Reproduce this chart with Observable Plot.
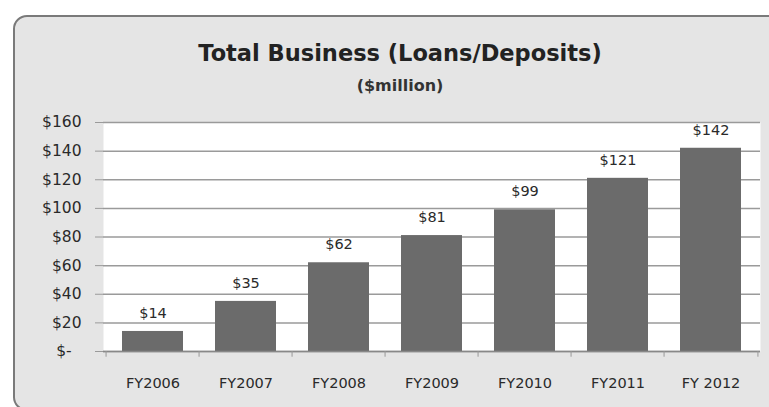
<!DOCTYPE html>
<html><head><meta charset="utf-8">
<script src="https://cdn.jsdelivr.net/npm/d3@7"></script>
<script src="https://cdn.jsdelivr.net/npm/@observablehq/plot@0.6"></script>
<style>
html,body{margin:0;padding:0;background:#fff;width:769px;height:407px;overflow:hidden;font-family:"DejaVu Sans",sans-serif;}
#box{position:absolute;left:13px;top:15px;width:800px;height:396px;background:#e5e5e5;border:2px solid #7a7a7a;border-radius:14px;box-sizing:border-box;}
#title{position:absolute;left:0;top:40px;width:800px;text-align:center;font-weight:bold;font-size:22.5px;line-height:26px;color:#222;}
#sub{position:absolute;left:0;top:76px;width:800px;text-align:center;font-weight:bold;font-size:16px;line-height:20px;color:#333;}
#chart{position:absolute;left:0;top:105px;}
</style></head>
<body>
<div id="box"></div>
<div id="title">Total Business (Loans/Deposits)</div>
<div id="sub">($million)</div>
<div id="chart"></div>
<script>
const categories = ["FY2006","FY2007","FY2008","FY2009","FY2010","FY2011","FY 2012"];
const values = [14, 35, 62, 81, 99, 121, 142];
const yTicks = [0,20,40,60,80,100,120,140,160];
const data = categories.map((c,i)=>({cat:c, v:values[i]}));
const step = (769-103-9)/categories.length;
const chart = Plot.plot({
  width: 769, height: 302,
  marginLeft: 103, marginRight: 9, marginTop: 17, marginBottom: 56,
  style: {background: "transparent", fontFamily: "'DejaVu Sans', sans-serif", color: "#2a2a2a"},
  x: {domain: categories, paddingInner: 0.34, paddingOuter: 0.17, label: null},
  y: {domain: [0,160], ticks: yTicks, label: null},
  marks: [
    Plot.frame({fill: "white", stroke: null}),
    Plot.gridY(yTicks, {stroke: "#9a9a9a", strokeOpacity: 1, strokeWidth: 1.5}),
    Plot.barY(data, {x: "cat", y: "v", fill: "#6b6b6b"}),
    Plot.text(data, {x: "cat", y: "v", text: d => "$" + d.v, dy: -18, fontSize: 14.5, fill: "#2a2a2a"}),
    Plot.ruleY([0], {stroke: "#888", strokeWidth: 1.5}),
    Plot.ruleX(categories, {x: d => d, dx: -step/2, y1: 0, y2: -4, stroke: "#999"}),
    Plot.ruleX(categories.slice(-1), {x: d => d, dx: step/2, y1: 0, y2: -4, stroke: "#999"}),
    Plot.axisY(yTicks, {tickSize: 8, tickPadding: 14, fontSize: 15.5, fill: "#2a2a2a", stroke: "#9a9a9a", tickFormat: d => d === 0 ? "$-\u00a0\u00a0" : "$" + d}),
    Plot.ruleX([0], {frameAnchor: "left", stroke: "#888", strokeWidth: 2}),
    Plot.axisX({tickSize: 0, tickPadding: 26, fontSize: 14.5, fill: "#2a2a2a"})
  ]
});
document.getElementById("chart").append(chart);
</script>
</body></html>
